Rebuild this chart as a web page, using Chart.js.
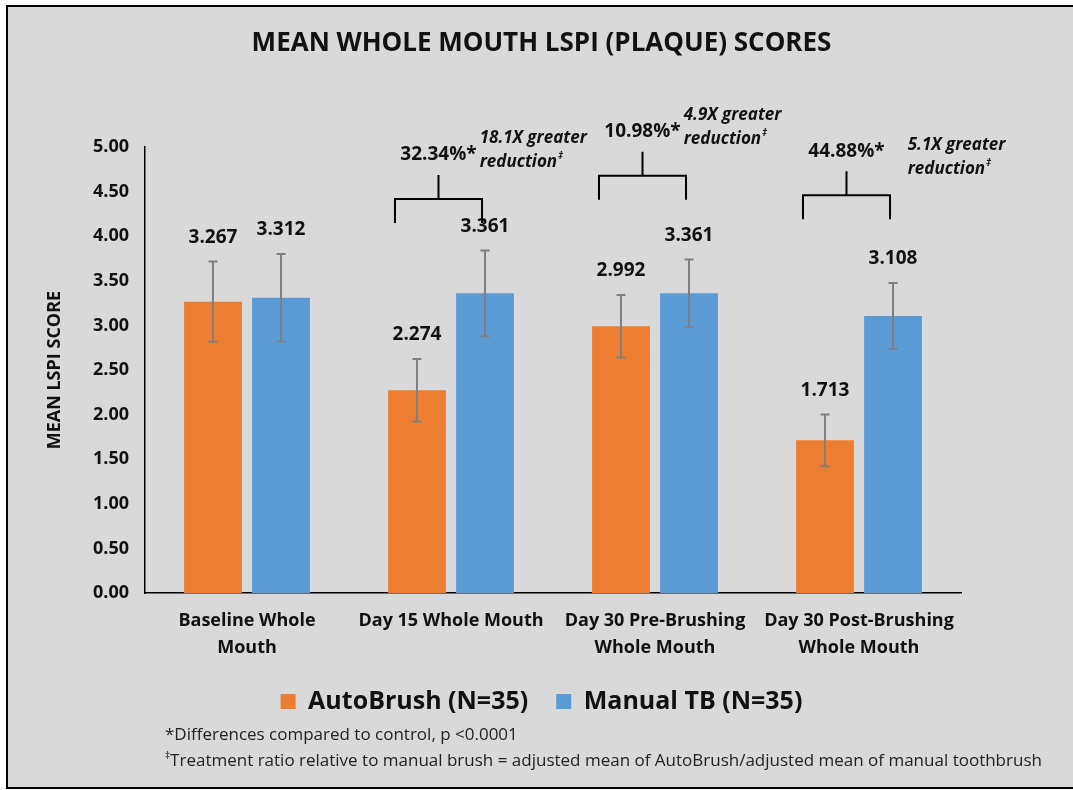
<!DOCTYPE html>
<html lang="en">
<head>
  <meta charset="UTF-8">
  <title>Mean Whole Mouth LSPI (Plaque) Scores</title>
  <style>
    body {
      margin: 0;
      padding: 0;
      background-color: #ffffff;
      font-family: "Open Sans", Arial, sans-serif;
    }

    .frame {
      position: absolute;
      left: 6px;
      top: 5px;
      width: 1080px;
      height: 780px;
      border: 2px solid #000;
      background-color: #d9d9d9;
    }

    .chart-box {
      position: absolute;
      left: 0;
      top: 0;
      width: 1067px;
      height: 780px;
    }

    .notes {
      position: absolute;
      left: 157px;
      top: 714px;
      font-size: 17px;
      color: #222;
      line-height: 26px;
      white-space: nowrap;
    }

    .notes .mark {
      font-size: 10px;
      position: relative;
      top: -7px;
    }
  </style>
</head>
<body>
  <div class="frame">
    <div class="chart-box">
      <canvas id="myChart"></canvas>
    </div>
    <div class="notes">
      <div>*Differences compared to control, p &lt;0.0001</div>
      <div><span class="mark">&Dagger;</span>Treatment ratio relative to manual brush = adjusted mean of AutoBrush/adjusted mean of manual toothbrush</div>
    </div>
  </div>
  <script src="https://cdn.jsdelivr.net/npm/chart.js"></script>
  <script>
    var categories = [
      ['Baseline Whole', 'Mouth'],
      'Day 15 Whole Mouth',
      ['Day 30 Pre-Brushing', 'Whole Mouth'],
      ['Day 30 Post-Brushing', 'Whole Mouth']
    ];
    var autoBrush = [3.267, 2.274, 2.992, 1.713];
    var manualTB = [3.312, 3.361, 3.361, 3.108];
    var autoBrushErr = [0.45, 0.35, 0.35, 0.29];
    var manualTBErr = [0.49, 0.48, 0.38, 0.37];

    // comparison brackets for the last three timepoints
    var bracketCategory = [1, 2, 3];
    var pctLabels = ['32.34%*', '10.98%*', '44.88%*'];
    var ratioLabels = ['18.1X greater', '4.9X greater', '5.1X greater'];
    var bracketLevel = [4.42, 4.68, 4.46];

    var orange = '#ED7D31';
    var blue = '#5B9BD5';
    var fontFamily = '"Open Sans", Arial, sans-serif';

    var overlayPlugin = {
      id: 'overlay',
      afterDatasetsDraw: function(chart) {
        var c = chart.ctx;
        var yScale = chart.scales.y;
        var sets = [[autoBrush, autoBrushErr], [manualTB, manualTBErr]];

        // error bars and value labels
        sets.forEach(function(pair, di) {
          var meta = chart.getDatasetMeta(di);
          meta.data.forEach(function(bar, i) {
            var v = pair[0][i], e = pair[1][i];
            var yTop = yScale.getPixelForValue(v + e);
            var yBot = yScale.getPixelForValue(v - e);
            c.save();
            c.strokeStyle = '#7f7f7f';
            c.lineWidth = 2;
            c.beginPath();
            c.moveTo(bar.x, yTop); c.lineTo(bar.x, yBot);
            c.moveTo(bar.x - 4.5, yTop); c.lineTo(bar.x + 4.5, yTop);
            c.moveTo(bar.x - 4.5, yBot); c.lineTo(bar.x + 4.5, yBot);
            c.stroke();
            c.fillStyle = '#111';
            c.font = 'bold 19px ' + fontFamily;
            c.textAlign = 'center';
            c.textBaseline = 'middle';
            c.fillText(v.toFixed(3), bar.x, yTop - 24);
            c.restore();
          });
        });

        // brackets with percent reduction text
        bracketCategory.forEach(function(ci, k) {
          var left = chart.getDatasetMeta(0).data[ci].x - 22;
          var right = chart.getDatasetMeta(1).data[ci].x - 3;
          var mid = (left + right) / 2;
          var yH = yScale.getPixelForValue(bracketLevel[k]);
          var yLow = yH + 24;
          var yStem = yH - 24;
          c.save();
          c.strokeStyle = '#000';
          c.lineWidth = 2;
          c.beginPath();
          c.moveTo(left, yLow); c.lineTo(left, yH);
          c.lineTo(right, yH); c.lineTo(right, yLow);
          c.moveTo(mid, yH); c.lineTo(mid, yStem);
          c.stroke();

          c.fillStyle = '#111';
          c.font = 'bold 19px ' + fontFamily;
          c.textAlign = 'center';
          c.textBaseline = 'middle';
          var ty = yStem - 20;
          c.fillText(pctLabels[k], mid, ty);
          var w = c.measureText(pctLabels[k]).width;

          c.font = 'italic bold 17px ' + fontFamily;
          c.textAlign = 'left';
          var tx = mid + w / 2 + 3 + (k === 2 ? 20 : 0);
          var ty2 = k === 2 ? ty - 6 : ty - 17;
          c.fillText(ratioLabels[k], tx, ty2);
          c.fillText('reduction', tx, ty2 + 24);
          var rw = c.measureText('reduction').width;
          c.font = 'italic bold 10px ' + fontFamily;
          c.fillText('\u2021', tx + rw + 1, ty2 + 18);
          c.restore();
        });
      }
    };

    var ctx = document.getElementById('myChart').getContext('2d');
    var myChart = new Chart(ctx, {
      type: 'bar',
      data: {
        labels: categories,
        datasets: [{
          label: 'AutoBrush (N=35)',
          data: autoBrush,
          backgroundColor: orange
        }, {
          label: 'Manual TB (N=35)',
          data: manualTB,
          backgroundColor: blue
        }]
      },
      options: {
        responsive: true,
        maintainAspectRatio: false,
        animation: false,
        categoryPercentage: 0.667,
        barPercentage: 0.85,
        layout: {
          padding: { left: 0, right: 0, top: 0, bottom: 63 }
        },
        plugins: {
          title: {
            display: true,
            text: 'MEAN WHOLE MOUTH LSPI (PLAQUE) SCORES',
            color: '#111',
            font: { family: fontFamily, size: 26, weight: 'bold' },
            padding: { top: 21, bottom: 88 }
          },
          legend: {
            position: 'bottom',
            labels: {
              color: '#111',
              font: { family: fontFamily, size: 25, weight: 'bold' },
              boxWidth: 15,
              boxHeight: 15,
              padding: 28
            }
          },
          tooltip: { enabled: false }
        },
        scales: {
          x: {
            grid: { display: false, drawTicks: false },
            border: { color: '#000', width: 1.5 },
            ticks: {
              color: '#111',
              padding: 14,
              maxRotation: 0,
              font: { family: fontFamily, size: 18, weight: 'bold', lineHeight: 1.5 }
            },
            afterFit: function(s) { s.height -= 14; }
          },
          y: {
            min: 0,
            max: 5,
            grid: { display: false, drawTicks: false },
            border: { color: '#000', width: 1.5 },
            ticks: {
              stepSize: 0.5,
              color: '#111',
              padding: 16,
              font: { family: fontFamily, size: 18, weight: 'bold' },
              callback: function(value) { return value.toFixed(2); }
            },
            title: {
              display: true,
              text: 'MEAN LSPI SCORE',
              color: '#111',
              font: { family: fontFamily, size: 18, weight: 'bold' },
              padding: { top: 36, bottom: 0 }
            },
            afterFit: function(s) { s.width = 137; }
          },
          // empty right-hand axis that only reserves space
          yRight: {
            type: 'linear',
            position: 'right',
            display: true,
            grid: { display: false, drawTicks: false },
            border: { display: false },
            ticks: { display: false },
            afterFit: function(s) { s.width = 114; }
          }
        }
      },
      plugins: [overlayPlugin]
    });
  </script>
</body>
</html>
